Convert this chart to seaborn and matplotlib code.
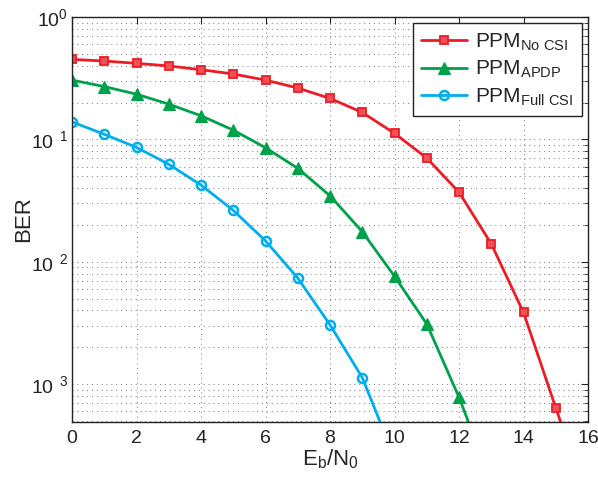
import numpy as np
import pandas as pd
import matplotlib
matplotlib.use("Agg")
import matplotlib.pyplot as plt
import seaborn as sns
from matplotlib.ticker import LogLocator, FixedLocator, NullFormatter

# ---- data ----
snr = [0, 1, 2, 3, 4, 5, 6, 7, 8, 9, 10, 11, 12, 13, 14, 15, 16]
ber_no_csi = [0.45, 0.437, 0.418, 0.398, 0.371, 0.342, 0.305, 0.263, 0.216, 0.166,
              0.112, 0.0703, 0.037, 0.0140, 0.00385, 0.00064, 0.00011]
ber_apdp = [0.305, 0.27, 0.234, 0.194, 0.156, 0.119, 0.0855, 0.058, 0.0346, 0.0176,
            0.0076, 0.0031, 0.00078, 0.00016]
ber_full = [0.139, 0.110, 0.086, 0.0625, 0.0423, 0.0263, 0.0148, 0.00735, 0.00305,
            0.00113, 0.00025]
labels = [r'PPM$_{\mathregular{No\ CSI}}$', r'PPM$_{\mathregular{APDP}}$',
          r'PPM$_{\mathregular{Full\ CSI}}$']
xticks = [0, 2, 4, 6, 8, 10, 12, 14, 16]
yticks = [1e0, 1e-1, 1e-2, 1e-3]
ytick_labels = [r'$\mathregular{10^{0}}$', r'$\mathregular{10^{\;\;1}}$',
                r'$\mathregular{10^{\;\;2}}$', r'$\mathregular{10^{\;\;3}}$']

sns.set_style("white")
plt.rcParams['font.family'] = ['Liberation Sans', 'DejaVu Sans']
plt.rcParams['mathtext.fontset'] = 'custom'
plt.rcParams['mathtext.rm'] = 'Liberation Sans'
plt.rcParams['mathtext.it'] = 'Liberation Sans'

fig = plt.figure(figsize=(5.98, 4.8), dpi=100)
ax = fig.add_axes([0.1204, 0.1208, 0.8629, 0.8438])

red, green, blue = '#EC1C24', '#00A14B', '#00AEEF'
sns.lineplot(x=snr[:len(ber_no_csi)], y=ber_no_csi, ax=ax, color=red, lw=2,
             marker='s', markersize=6, markerfacecolor='#F05058',
             markeredgecolor=red, markeredgewidth=1.3, label=labels[0])
sns.lineplot(x=snr[:len(ber_apdp)], y=ber_apdp, ax=ax, color=green, lw=2,
             marker='^', markersize=8, markerfacecolor=green,
             markeredgecolor=green, label=labels[1])
sns.lineplot(x=snr[:len(ber_full)], y=ber_full, ax=ax, color=blue, lw=2,
             marker='o', markersize=6.5, markerfacecolor='none',
             markeredgecolor=blue, markeredgewidth=1.8, label=labels[2])

ax.set_yscale('log')
ax.set_xlim(0, 16)
ax.set_ylim(4.9e-4, 1)
ax.set_xticks(xticks)
ax.set_xticklabels([str(t) for t in xticks])
ax.yaxis.set_major_locator(FixedLocator(yticks))
ax.set_yticklabels(ytick_labels)
ax.yaxis.set_minor_locator(LogLocator(base=10, subs=np.arange(2, 10), numticks=20))
ax.yaxis.set_minor_formatter(NullFormatter())

ax.grid(True, which='major', axis='both', color='#777777', linestyle=(0, (1, 4)), lw=0.7)
ax.grid(True, which='minor', axis='y', color='#777777', linestyle=(0, (1, 4)), lw=0.7)
ax.tick_params(axis='both', which='both', direction='in', top=True, right=True,
               labelsize=14, colors='#222222')
ax.tick_params(which='major', length=5)
ax.tick_params(which='minor', length=3)
ax.tick_params(axis='x', pad=6)
ax.tick_params(axis='y', pad=3)
for s in ax.spines.values():
    s.set_color('#222222')
    s.set_linewidth(1.0)

ax.set_xlabel(r'E$_{\mathregular{b}}$/N$_{\mathregular{0}}$', fontsize=16, labelpad=0)
ax.set_ylabel('BER', fontsize=16)
ax.yaxis.set_label_coords(-0.074, 0.5)

leg = ax.legend(loc='upper right', fontsize=15, frameon=True, fancybox=False,
                edgecolor='#222222', framealpha=1, borderaxespad=0.3,
                handlelength=2.2, labelspacing=0.3, borderpad=0.4, handletextpad=0.4)
leg.get_frame().set_linewidth(1.0)

fig.savefig('out.png', dpi=100)
